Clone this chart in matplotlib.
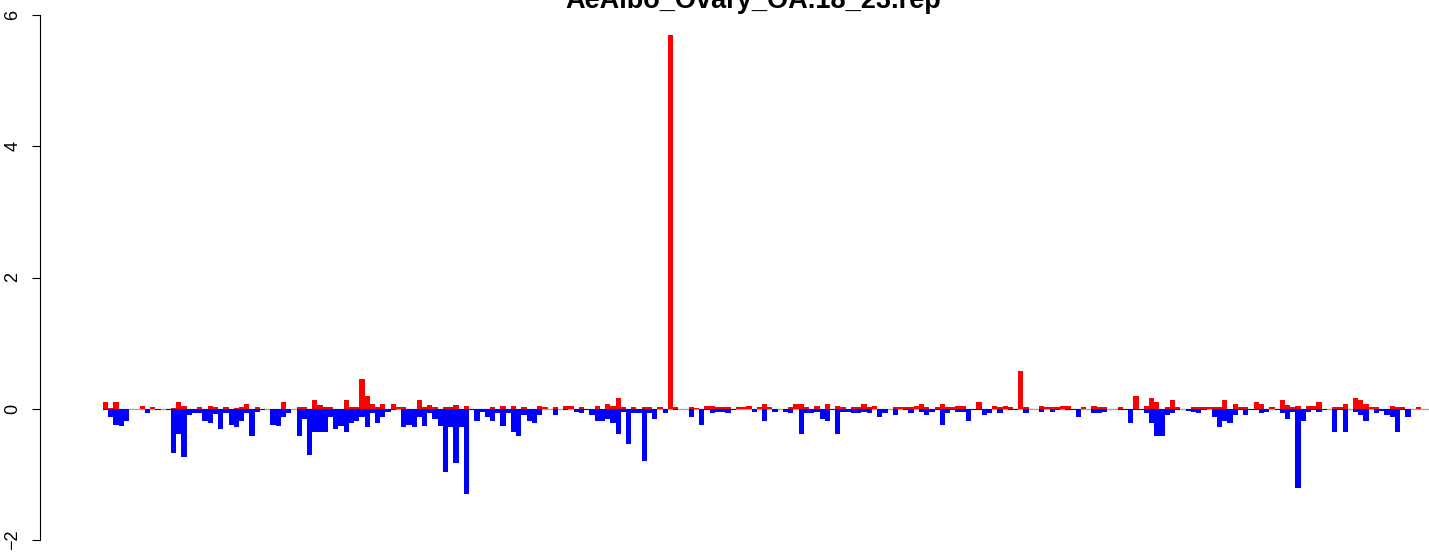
import matplotlib
matplotlib.use("Agg")
import matplotlib.pyplot as plt
import numpy as np

title = "AeAlbo_Ovary_OA.18_23.rep"

# sense (red, positive) and antisense (blue, negative) values per bin
sense = [
    0.10, 0.01, 0.10, 0, 0, 0, 0, 0.045, 0, 0.02,
    0, 0, 0, 0.01, 0.10, 0.045, 0, 0, 0.02, 0,
    0.045, 0.02, 0, 0.02, 0, 0.01, 0.02, 0.08, 0, 0.02,
    0, 0, 0, 0, 0.10, 0, 0, 0.02, 0.02, 0,
    0.13, 0.05, 0.02, 0.02, 0, 0, 0.13, 0.02, 0.02, 0.46,
    0.20, 0.08, 0.02, 0.08, 0, 0.08, 0.02, 0.02, 0, 0,
    0.13, 0.02, 0.05, 0.02, 0, 0.02, 0.02, 0.05, 0, 0.045,
    0, 0, 0, 0, 0.02, 0, 0.045, 0, 0.045, 0,
    0.02, 0, 0, 0.045, 0.02, 0, 0.02, 0, 0.045, 0.045,
    0, 0.02, 0, 0, 0.045, 0, 0.08, 0.045, 0.17, 0.02,
    0, 0.02, 0, 0.02, 0.02, 0, 0.02, 0, 5.70, 0.02,
    0, 0, 0.02, 0.01, 0, 0.045, 0.045, 0.02, 0.02, 0.02,
    0, 0.02, 0.02, 0.045, 0, 0.02, 0.08, 0.02, 0, 0,
    0, 0.02, 0.08, 0.08, 0.02, 0, 0.045, 0, 0.08, 0,
    0.045, 0.02, 0, 0.02, 0.02, 0.08, 0.02, 0.045, 0, 0,
    0, 0.02, 0.02, 0.02, 0.02, 0.045, 0.08, 0.02, 0, 0.02,
    0.08, 0.02, 0.02, 0.045, 0.045, 0, 0, 0.10, 0, 0,
    0.045, 0.02, 0.045, 0.02, 0, 0.58, 0.02, 0, 0, 0.045,
    0.02, 0.02, 0.02, 0.045, 0.045, 0, 0, 0.02, 0, 0.045,
    0.02, 0.02, 0, 0, 0.02, 0, 0, 0.20, 0, 0.045,
    0.17, 0.10, 0, 0.02, 0.13, 0.02, 0, 0, 0.02, 0.02,
    0.02, 0.02, 0.02, 0.02, 0.13, 0, 0.08, 0.02, 0.02, 0,
    0.10, 0.08, 0, 0.02, 0, 0.13, 0.05, 0.02, 0.045, 0,
    0.045, 0.045, 0.10, 0, 0, 0.02, 0.02, 0.08, 0, 0.17,
    0.13, 0.08, 0.02, 0.02, 0, 0, 0.045, 0.02, 0.02, 0,
    0, 0.02,
]
antisense = [
    -0.025, -0.12, -0.24, -0.27, -0.18, 0, 0, 0, -0.07, 0,
    -0.025, 0, -0.025, -0.68, -0.39, -0.73, -0.10, -0.07, -0.07, -0.18,
    -0.22, -0.08, -0.31, -0.07, -0.24, -0.28, -0.19, -0.07, -0.41, -0.05,
    -0.025, 0, -0.24, -0.27, -0.12, -0.07, 0, -0.41, -0.15, -0.70,
    -0.35, -0.35, -0.36, -0.12, -0.31, -0.27, -0.35, -0.22, -0.19, -0.12,
    -0.28, -0.06, -0.22, -0.12, -0.05, -0.025, 0, -0.28, -0.24, -0.28,
    -0.12, -0.27, -0.07, -0.15, -0.27, -0.97, -0.28, -0.82, -0.28, -1.30,
    -0.025, -0.18, -0.05, -0.12, -0.18, -0.07, -0.27, -0.07, -0.35, -0.41,
    -0.10, -0.18, -0.22, -0.10, 0, 0, -0.10, 0, -0.025, 0,
    -0.05, -0.07, -0.025, -0.10, -0.18, -0.19, -0.15, -0.22, -0.39, -0.05,
    -0.53, -0.07, -0.07, -0.80, -0.07, -0.15, 0, -0.07, 0, -0.025,
    0, 0, -0.12, 0, -0.24, -0.025, -0.07, -0.05, -0.05, -0.07,
    -0.025, 0, 0, 0, -0.05, 0, -0.19, 0, -0.05, 0,
    -0.05, -0.07, 0, -0.39, -0.07, -0.07, -0.05, -0.15, -0.19, -0.025,
    -0.39, -0.05, -0.05, -0.07, -0.07, -0.05, -0.07, 0, -0.12, -0.07,
    0, -0.10, 0, -0.025, -0.07, 0, -0.05, -0.10, -0.05, -0.025,
    -0.24, -0.07, -0.025, -0.05, -0.05, -0.19, -0.025, -0.025, -0.10, -0.07,
    0, -0.07, 0, -0.025, -0.025, 0, -0.07, 0, 0, -0.05,
    0, -0.05, -0.025, 0, -0.025, -0.025, -0.12, 0, 0, -0.07,
    -0.07, -0.05, 0, 0, -0.025, -0.015, -0.22, -0.025, -0.025, -0.07,
    -0.22, -0.41, -0.41, -0.10, -0.07, -0.025, 0, -0.04, -0.05, -0.07,
    -0.025, 0, -0.12, -0.28, -0.18, -0.22, -0.10, -0.025, -0.10, -0.025,
    -0.025, -0.07, -0.05, 0, -0.025, -0.07, -0.15, -0.05, -1.20, -0.18,
    -0.05, -0.025, -0.05, -0.025, 0, -0.35, -0.025, -0.36, 0, -0.05,
    -0.10, -0.18, 0, -0.07, -0.04, -0.10, -0.12, -0.35, -0.025, -0.12,
    0, 0,
]
yticks = [-2, 0, 2, 4, 6]
yticklabels = ["\u22122", "0", "2", "4", "6"]

W, H = 1429, 554
fig = plt.figure(figsize=(W / 100, H / 100), dpi=100)
px_left, px_right = 40, W
y_top_px, y_bot_px = 15, 540
ax = fig.add_axes([px_left / W, (H - y_bot_px) / H,
                   (px_right - px_left) / W, (y_bot_px - y_top_px) / H])

bw = 5.23
x0 = 103
n = len(sense)
idx = np.arange(n)
ax.set_xlim((px_left - x0) / bw, (px_right - x0) / bw)
ax.set_ylim(-2, 6)

ax.plot([0, (px_right - x0) / bw + 1], [0, 0], color="#a8a8a8", lw=1.0,
        zorder=1, solid_capstyle="butt")
ax.bar(idx, sense, width=1.0, align="edge", color="#ff0000", linewidth=0,
       zorder=2)
ax.bar(idx, antisense, width=1.0, align="edge", color="#0000ff", linewidth=0,
       zorder=2)

for s in ["top", "right", "bottom"]:
    ax.spines[s].set_visible(False)
ax.spines["left"].set_linewidth(0.8)
ax.set_xticks([])
ax.set_yticks(yticks)
ax.set_yticklabels(yticklabels, rotation=90, va="center",
                   fontfamily="Liberation Sans", fontsize=13)
ax.tick_params(axis="y", length=5.5, width=0.8, pad=8)

fig.text(753 / W, 1 - 8 / H, title, ha="center", va="baseline",
         fontsize=19.5, fontweight="bold", fontfamily="Liberation Sans")

fig.savefig("out.png", dpi=100)
